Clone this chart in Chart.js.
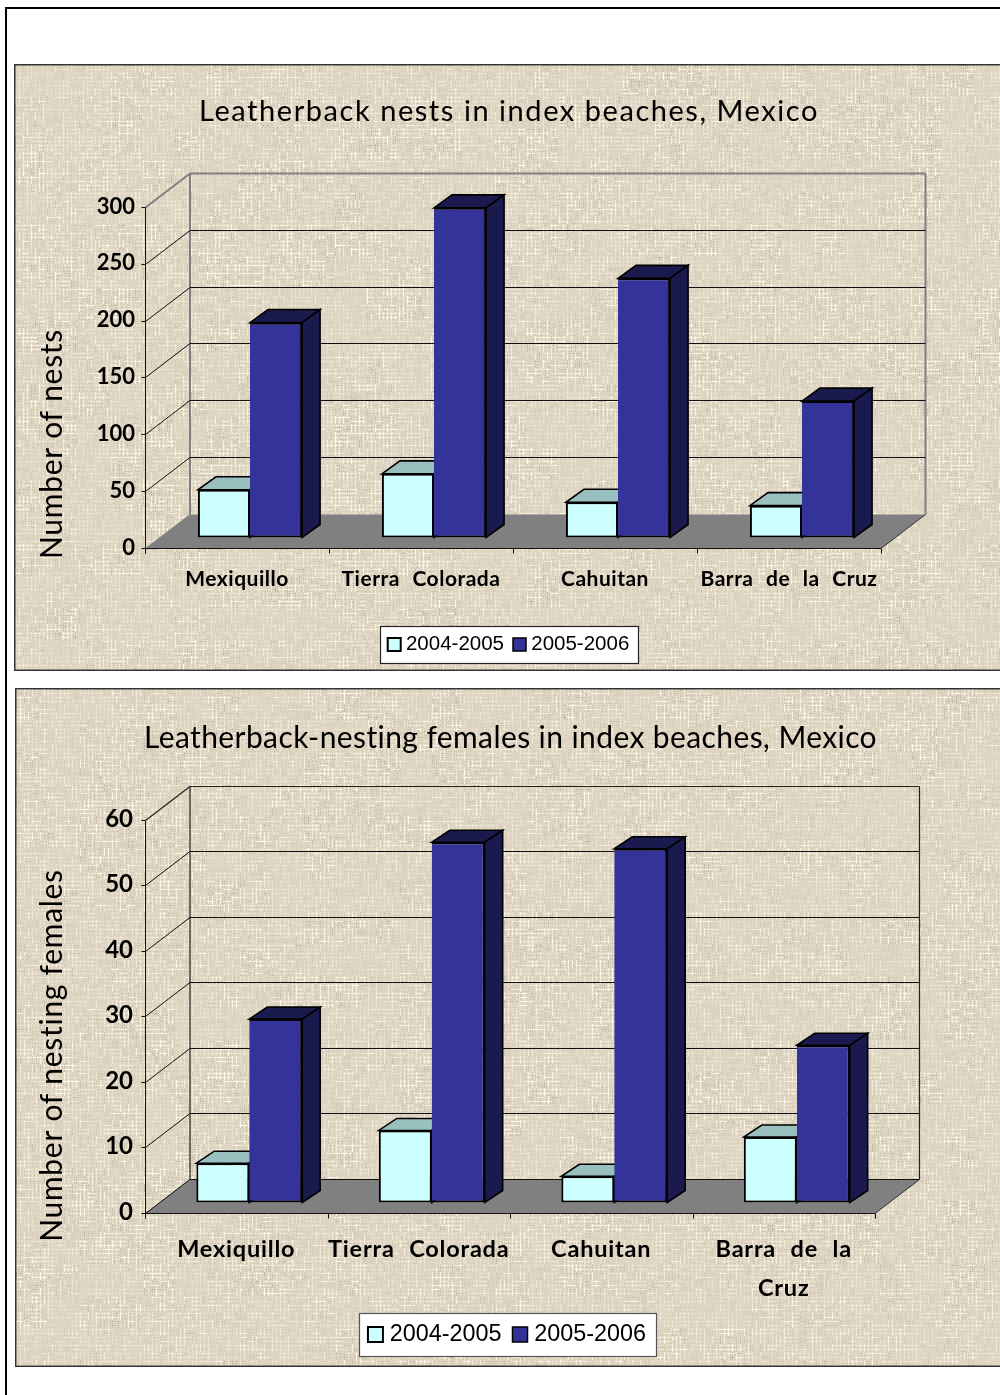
<!DOCTYPE html>
<html>
<head>
<meta charset="utf-8">
<title>Leatherback nesting, Mexico</title>
<script src="https://cdn.jsdelivr.net/npm/chart.js@4"></script>
<style>
  html, body { margin: 0; padding: 0; background: #fff; width: 1000px; height: 1395px; overflow: hidden; }
  #frame { position: absolute; left: 5px; top: 7px; width: 1000px; height: 1400px;
           border-left: 2px solid #000; border-top: 2px solid #000; }
  .panel { position: absolute; }
  .panel canvas { display: block; }
</style>
</head>
<body>
<div id="frame"></div>
<div class="panel" style="left:14px;top:64px;width:986px;height:607px"><canvas id="nests" width="986" height="607"></canvas></div>
<div class="panel" style="left:15px;top:688px;width:985px;height:679px"><canvas id="females" width="985" height="679"></canvas></div>
<script>
// Season names shared by both charts
const seasons = ['2004-2005', '2005-2006'];

// Nests per index beach
const nestBeaches = ['Mexiquillo', 'Tierra Colorada', 'Cahuitan', 'Barra de la Cruz'];
const nests0405 = [42, 56, 31, 28];
const nests0506 = [189, 290, 228, 120];

// Nesting females per index beach
const femaleBeaches = ['Mexiquillo', 'Tierra Colorada', 'Cahuitan', ['Barra de la', 'Cruz']];
const females0405 = [6, 11, 4, 10];
const females0506 = [28, 55, 54, 24];

const nestsTitle = 'Leatherback nests in index beaches, Mexico';
const femalesTitle = 'Leatherback-nesting females in index beaches, Mexico';
const nestsAxisTitle = 'Number of nests';
const femalesAxisTitle = 'Number of nesting females';

const LIGHT = '#ccffff', LIGHT_TOP = '#99bfbe';
const DARK = '#333399', DARK_SIDE = '#1a1a4f';
const FLOOR = '#808080';
const TEXT_FONT = 'Lato, "Open Sans", sans-serif';

// Small repeatable hash used for the burlap weave
function hash(a, b, s) {
  let h = (a * 374761393 + b * 668265263 + s * 2147483647) | 0;
  h = Math.imul(h ^ (h >>> 13), 1274126177);
  h = Math.imul(h ^ (h >>> 16), 2246822519);
  return ((h ^ (h >>> 15)) >>> 0) / 4294967296;
}

function weave(w, h, seed) {
  const raw = document.createElement('canvas');
  raw.width = w; raw.height = h;
  const rc = raw.getContext('2d');
  const img = rc.createImageData(w, h);
  for (let y = 0; y < h; y++) {
    for (let x = 0; x < w; x++) {
      const patch = 0.5 + 0.8 * hash(x >> 5, y >> 5, seed);
      let v = 0;
      if (x % 4 === 1) v += (hash(x, y >> 3, seed + 1) - 0.38) * 42;
      if (y % 4 === 1) v += (hash(y, x >> 3, seed + 2) - 0.38) * 42;
      if (x % 4 === 3 && y % 4 === 3) v -= hash(x >> 2, y >> 2, seed + 3) * 36;
      v += (hash(x >> 1, y >> 1, seed + 4) - 0.5) * 6;
      v *= patch;
      const i = (y * w + x) * 4;
      img.data[i] = 223 + v;
      img.data[i + 1] = 214 + v;
      img.data[i + 2] = 196 + v * 1.05;
      img.data[i + 3] = 255;
    }
  }
  rc.putImageData(img, 0, 0);
  const soft = document.createElement('canvas');
  soft.width = w; soft.height = h;
  const sc = soft.getContext('2d');
  sc.filter = 'blur(0.75px)';
  sc.drawImage(raw, 0, 0);
  return soft;
}

function line(ctx, x0, y0, x1, y1, color, width) {
  ctx.strokeStyle = color;
  ctx.lineWidth = width;
  ctx.beginPath();
  ctx.moveTo(x0, y0);
  ctx.lineTo(x1, y1);
  ctx.stroke();
}

function poly(ctx, pts, fill, stroke, width) {
  ctx.beginPath();
  pts.forEach((p, i) => i ? ctx.lineTo(p[0], p[1]) : ctx.moveTo(p[0], p[1]));
  ctx.closePath();
  ctx.fillStyle = fill;
  ctx.fill();
  if (stroke) {
    ctx.strokeStyle = stroke;
    ctx.lineWidth = width;
    ctx.stroke();
  }
}

// Runs one of a layout box's draw methods with wider text tracking
function track(box, method, letter, word) {
  const draw = box[method];
  box[method] = function (...args) {
    const c = box.ctx;
    c.save();
    c.letterSpacing = letter + 'px';
    c.wordSpacing = word + 'px';
    draw.apply(box, args);
    c.restore();
  };
}

// Paints the textured panel, the box behind the legend, the perspective
// walls and the depth faces of each bar around the library's own scales.
const boxStage = {
  id: 'boxStage',
  afterLayout(chart, args, o) {
    if (chart.$tracked) return;
    chart.$tracked = true;
    track(chart.titleBlock, 'draw', o.titleTrack, 0);
    track(chart.scales.x, 'drawLabels', o.labelTrack[0], o.labelTrack[1]);
    chart.legend.left += o.legendShift;
    chart.legend.right += o.legendShift;
  },
  beforeDraw(chart, args, o) {
    const { ctx, width, height } = chart;
    if (!chart.$weave) chart.$weave = weave(width, height, o.seed);
    ctx.save();
    ctx.drawImage(chart.$weave, 0, 0);
    ctx.strokeStyle = '#333';
    ctx.lineWidth = 1.5;
    ctx.strokeRect(0.75, 0.75, width + 10, height - 1.5);

    const lg = chart.legend;
    const pad = lg.options.labels.padding;
    const fs = lg.options.labels.font.size;
    const contentW = lg.lineWidths[0] - pad;
    const left = (lg.left + pad + lg.right - lg.lineWidths[0]) / 2;
    const midY = lg.top + pad + fs / 2;
    ctx.fillStyle = '#fff';
    ctx.strokeStyle = o.legendEdge;
    ctx.lineWidth = 1.2;
    const bx = Math.round(left - o.legendMargin[0]) + 0.5;
    const bw = Math.round(contentW + o.legendMargin[0] + o.legendMargin[1]);
    const by = Math.round(midY - o.legendHeight / 2) + 0.5;
    ctx.fillRect(bx, by, bw, o.legendHeight);
    ctx.strokeRect(bx, by, bw, o.legendHeight);
    ctx.restore();
  },
  beforeDatasetsDraw(chart, args, o) {
    const { ctx, scales: { x, y } } = chart;
    const [dx, dy] = o.wallDepth;
    const fx0 = x.left + o.frontShift[0], fx1 = x.right + o.frontShift[0];
    const frontY = v => Math.round(y.getPixelForValue(v) + o.frontShift[1]) + 0.5;
    const zero = frontY(y.min), top = frontY(y.max);
    const lfx = Math.round(fx0) + 0.5;
    ctx.save();

    poly(ctx, [[fx0, zero], [fx1, zero], [fx1 + dx, zero + dy], [fx0 + dx, zero + dy]], FLOOR);

    // back wall edges and value lines
    line(ctx, lfx + dx, top + dy, lfx + dx, zero + dy, o.wallColor, o.wallWidth);
    line(ctx, fx1 + dx, top + dy, fx1 + dx, zero + dy, o.wallColor, o.wallWidth);
    y.ticks.forEach(t => {
      const fy = frontY(t.value);
      const isTop = t.value === y.max, isZero = t.value === y.min;
      if (isZero && !o.floorEdge) return;
      const c = isTop ? o.wallColor : '#111';
      const lw = isTop ? o.wallWidth : 1;
      line(ctx, lfx + dx, fy + dy, fx1 + dx, fy + dy, c, lw);
      line(ctx, lfx, fy, lfx + dx, fy + dy, c, lw);
      line(ctx, lfx - 4, fy, lfx, fy, '#111', 1);
    });
    line(ctx, lfx - 4, zero, lfx, zero, '#111', 1);

    // front edges of the box and the category separators
    line(ctx, lfx, top, lfx, zero + 5, '#111', 1);
    line(ctx, fx0, zero, fx1, zero, '#111', 1);
    line(ctx, fx1, zero, fx1 + dx, zero + dy, '#333', 1);
    const n = x.ticks.length;
    for (let i = 0; i <= n; i++) {
      const tx = Math.round(fx0 + (fx1 - fx0) * i / n) + 0.5;
      line(ctx, tx, zero, tx, zero + 5, '#111', 1);
    }

    // top and side faces, nearest season last
    const [bdx, bdy] = o.barDepth;
    chart.data.datasets.forEach((ds, di) => {
      chart.getDatasetMeta(di).data.forEach(el => {
        const p = el.getProps(['x', 'y', 'base', 'width']);
        const l = p.x - p.width / 2, r = p.x + p.width / 2;
        poly(ctx, [[l, p.y], [r, p.y], [r + bdx, p.y + bdy], [l + bdx, p.y + bdy]], ds.topColor, '#000', 1.6);
        poly(ctx, [[r, p.y], [r + bdx, p.y + bdy], [r + bdx, p.base + bdy], [r, p.base]], ds.sideColor, '#000', 1.6);
      });
    });
    ctx.restore();
  },
  afterDraw(chart, args, o) {
    // axis title sits lower than the centre of the value scale
    const { ctx, scales: { y } } = chart;
    const t = y.options.title;
    ctx.save();
    ctx.translate(o.axisTitleAt[0], o.axisTitleAt[1]);
    ctx.rotate(-Math.PI / 2);
    ctx.fillStyle = '#000';
    ctx.font = `${t.font.size}px ${TEXT_FONT}`;
    ctx.letterSpacing = o.axisTrack + 'px';
    ctx.textAlign = 'center';
    ctx.textBaseline = 'middle';
    ctx.fillText(t.text, 0, 0);
    ctx.restore();
  }
};

function seasonSets(a, b) {
  return [
    { label: seasons[0], data: a, backgroundColor: LIGHT, borderColor: '#000', borderWidth: 2,
      borderSkipped: false, topColor: LIGHT_TOP, sideColor: DARK_SIDE },
    { label: seasons[1], data: b, backgroundColor: DARK, borderColor: '#000',
      borderWidth: { top: 2, right: 2, bottom: 2, left: 0 }, borderSkipped: false,
      topColor: DARK_SIDE, sideColor: DARK_SIDE }
  ];
}

function build(id, cfg) {
  const canvasH = document.getElementById(id).height;
  new Chart(document.getElementById(id), {
    type: 'bar',
    data: { labels: cfg.labels, datasets: cfg.datasets },
    plugins: [boxStage],
    options: {
      responsive: false,
      animation: false,
      events: [],
      layout: { padding: { left: cfg.padLeft, right: 0, top: 0, bottom: cfg.padBottom } },
      datasets: { bar: { categoryPercentage: cfg.groupShare, barPercentage: 1 } },
      scales: {
        x: {
          type: 'category',
          grid: { display: false, drawTicks: false },
          border: { display: false },
          ticks: {
            color: '#000', autoSkip: false, maxRotation: 0, minRotation: 0,
            padding: cfg.xPadding, labelOffset: cfg.boxStage.frontShift[0],
            font: { family: TEXT_FONT, size: cfg.xFont, weight: 'bold', lineHeight: cfg.xLine }
          },
          afterFit(s) { s.height = canvasH - cfg.plotBottom - s.chart.legend.height - cfg.padBottom; }
        },
        y: {
          min: 0, max: cfg.yMax,
          grid: { display: false, drawTicks: false },
          border: { display: false },
          title: { display: false, text: cfg.axisTitle, font: { size: cfg.axisFont } },
          ticks: {
            color: '#000', stepSize: cfg.yStep, padding: cfg.yPadding, labelOffset: cfg.yLabelShift,
            font: { family: TEXT_FONT, size: cfg.yFont, weight: 'bold' }
          },
          afterFit(s) { s.width = cfg.plotLeft - cfg.padLeft; }
        },
        rightGap: {
          position: 'right', min: 0, max: 1,
          grid: { display: false, drawTicks: false },
          border: { display: false },
          ticks: { display: false },
          afterFit(s) { s.width = cfg.rightGap; }
        }
      },
      plugins: {
        title: {
          display: true, text: cfg.title, color: '#000',
          font: { family: TEXT_FONT, size: cfg.titleFont, weight: 'normal' },
          padding: cfg.titlePadding
        },
        legend: {
          display: true, position: 'bottom',
          labels: {
            color: '#000', usePointStyle: true, pointStyle: 'rect',
            boxWidth: cfg.swatchSlot, boxHeight: cfg.swatch, padding: cfg.legendPad,
            font: { family: '"Liberation Sans", Arial, sans-serif', size: cfg.legendFont }
          }
        },
        tooltip: { enabled: false },
        boxStage: cfg.boxStage
      }
    }
  });
}

build('nests', {
  labels: nestBeaches, datasets: seasonSets(nests0405, nests0506),
  title: nestsTitle, axisTitle: nestsAxisTitle,
  yMax: 300, yStep: 50, groupShare: 0.566,
  padLeft: 4, padBottom: 6.25, plotLeft: 144, plotBottom: 473.5, rightGap: 106,
  titleFont: 29, titlePadding: { top: 30.6, bottom: 67.1 },
  xFont: 21, xLine: 1.2, xPadding: 29.5, yFont: 22, yPadding: 23, yLabelShift: 10, axisFont: 30,
  legendFont: 20.5, legendPad: 14, swatch: 13, swatchSlot: 3,
  boxStage: {
    seed: 11, wallDepth: [44.5, -34], frontShift: [-13, 10.4], barDepth: [18, -13],
    wallColor: '#808080', wallWidth: 2, floorEdge: false,
    titleTrack: 1.55, labelTrack: [0.5, 7], axisTrack: 0.7, legendShift: 2,
    axisTitleAt: [38, 380], legendMargin: [13, 8], legendHeight: 37, legendEdge: '#222'
  }
});

build('females', {
  labels: femaleBeaches, datasets: seasonSets(females0405, females0506),
  title: femalesTitle, axisTitle: femalesAxisTitle,
  yMax: 60, yStep: 10, groupShare: 0.58,
  padLeft: 6, padBottom: 10.8, plotLeft: 143, plotBottom: 514.5, rightGap: 112,
  titleFont: 30, titlePadding: { top: 32, bottom: 53.5 },
  xFont: 23.5, xLine: 1.66, xPadding: 27, yFont: 24, yPadding: 25, yLabelShift: 9.5, axisFont: 30,
  legendFont: 23.4, legendPad: 16, swatch: 15, swatchSlot: 5,
  boxStage: {
    seed: 29, wallDepth: [44.5, -34], frontShift: [-13, 10.4], barDepth: [18, -12],
    wallColor: '#222', wallWidth: 1.2, floorEdge: true,
    titleTrack: 0.4, labelTrack: [0.8, 8], axisTrack: 0.7, legendShift: -1,
    axisTitleAt: [37, 367.5], legendMargin: [14, 10], legendHeight: 43, legendEdge: '#555'
  }
});
</script>
</body>
</html>
